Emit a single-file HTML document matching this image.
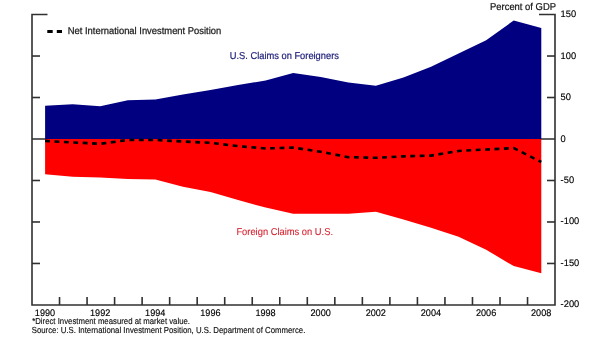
<!DOCTYPE html>
<html><head><meta charset="utf-8"><style>
html,body{margin:0;padding:0;background:#fff;width:600px;height:352px;overflow:hidden}
svg{display:block;font-family:"Liberation Sans",sans-serif;will-change:transform;text-rendering:geometricPrecision}
</style></head><body>
<svg width="600" height="352" viewBox="0 0 600 352">
<line x1="32" y1="139.0" x2="555" y2="139.0" stroke="#626262" stroke-width="1.8"/>
<polygon fill="#000080" points="45.10,105.71 72.67,104.30 100.23,106.29 127.80,100.24 155.36,99.49 182.93,94.44 210.50,90.05 238.06,85.07 265.63,80.43 293.19,73.06 320.76,77.04 348.33,82.42 375.89,85.65 403.46,77.45 431.02,66.84 458.59,53.50 486.16,40.16 513.72,20.53 541.29,27.90 541.29,139.00 45.10,139.00"/>
<polygon fill="#ff0000" points="45.10,174.23 72.67,176.72 100.23,177.55 127.80,178.95 155.36,179.45 182.93,186.66 210.50,192.05 238.06,200.08 265.63,207.62 293.19,213.84 320.76,213.84 348.33,213.84 375.89,211.68 403.46,219.47 431.02,227.84 458.59,236.87 486.16,249.72 513.72,266.12 541.29,273.17 541.29,139.00 45.10,139.00"/>
<polyline fill="none" stroke="#000" stroke-width="2.6" stroke-dasharray="4.9 4.505" points="45.10,140.92 72.67,142.41 100.23,143.82 127.80,140.01 155.36,139.93 182.93,141.50 210.50,142.83 238.06,146.14 265.63,148.46 293.19,147.63 320.76,151.78 348.33,157.16 375.89,157.82 403.46,156.33 431.02,155.59 458.59,150.95 486.16,149.54 513.72,148.13 541.29,161.97"/>
<g stroke="#303030" stroke-width="1.6" fill="none">
<line x1="32" y1="56.02" x2="40" y2="56.02"/>
<line x1="547" y1="56.02" x2="555" y2="56.02"/>
<line x1="32" y1="97.51" x2="40" y2="97.51"/>
<line x1="547" y1="97.51" x2="555" y2="97.51"/>
<line x1="32" y1="180.49" x2="40" y2="180.49"/>
<line x1="547" y1="180.49" x2="555" y2="180.49"/>
<line x1="32" y1="221.98" x2="40" y2="221.98"/>
<line x1="547" y1="221.98" x2="555" y2="221.98"/>
<line x1="32" y1="263.47" x2="40" y2="263.47"/>
<line x1="547" y1="263.47" x2="555" y2="263.47"/>
<polyline fill="none" points="47.5,14.53 32,14.53 32,304.96 555,304.96 555,14.53 539,14.53"/>
<line x1="59.53" y1="297" x2="59.53" y2="304.96"/>
<line x1="87.06" y1="297" x2="87.06" y2="304.96"/>
<line x1="114.59" y1="297" x2="114.59" y2="304.96"/>
<line x1="142.12" y1="297" x2="142.12" y2="304.96"/>
<line x1="169.65" y1="297" x2="169.65" y2="304.96"/>
<line x1="197.18" y1="297" x2="197.18" y2="304.96"/>
<line x1="224.71" y1="297" x2="224.71" y2="304.96"/>
<line x1="252.24" y1="297" x2="252.24" y2="304.96"/>
<line x1="279.77" y1="297" x2="279.77" y2="304.96"/>
<line x1="307.30" y1="297" x2="307.30" y2="304.96"/>
<line x1="334.83" y1="297" x2="334.83" y2="304.96"/>
<line x1="362.36" y1="297" x2="362.36" y2="304.96"/>
<line x1="389.89" y1="297" x2="389.89" y2="304.96"/>
<line x1="417.42" y1="297" x2="417.42" y2="304.96"/>
<line x1="444.95" y1="297" x2="444.95" y2="304.96"/>
<line x1="472.48" y1="297" x2="472.48" y2="304.96"/>
<line x1="500.01" y1="297" x2="500.01" y2="304.96"/>
<line x1="527.54" y1="297" x2="527.54" y2="304.96"/>
</g>
<g font-size="9.5" fill="#000" stroke="#000" stroke-width="0.15">
<text transform="translate(560.6,17.03) scale(0.98,1)">150</text>
<text transform="translate(560.6,58.52) scale(0.98,1)">100</text>
<text transform="translate(560.6,100.01) scale(0.98,1)">50</text>
<text transform="translate(560.6,141.50) scale(0.98,1)">0</text>
<text transform="translate(560.6,182.99) scale(0.98,1)">-50</text>
<text transform="translate(560.6,224.48) scale(0.98,1)">-100</text>
<text transform="translate(560.6,265.97) scale(0.98,1)">-150</text>
<text transform="translate(560.6,307.46) scale(0.98,1)">-200</text>
<text transform="translate(45.00,316.2) scale(0.96,1)" text-anchor="middle">1990</text>
<text transform="translate(100.13,316.2) scale(0.96,1)" text-anchor="middle">1992</text>
<text transform="translate(155.26,316.2) scale(0.96,1)" text-anchor="middle">1994</text>
<text transform="translate(210.40,316.2) scale(0.96,1)" text-anchor="middle">1996</text>
<text transform="translate(265.53,316.2) scale(0.96,1)" text-anchor="middle">1998</text>
<text transform="translate(320.66,316.2) scale(0.96,1)" text-anchor="middle">2000</text>
<text transform="translate(375.79,316.2) scale(0.96,1)" text-anchor="middle">2002</text>
<text transform="translate(430.92,316.2) scale(0.96,1)" text-anchor="middle">2004</text>
<text transform="translate(486.06,316.2) scale(0.96,1)" text-anchor="middle">2006</text>
<text transform="translate(541.19,316.2) scale(0.96,1)" text-anchor="middle">2008</text>
</g>
<text x="490" y="10.1" font-size="10" fill="#111" stroke="#111" stroke-width="0.2" textLength="66" lengthAdjust="spacingAndGlyphs">Percent of GDP</text>
<line x1="47.3" y1="31.4" x2="62" y2="31.4" stroke="#000" stroke-width="3" stroke-dasharray="5.4 4.1"/>
<text x="67.8" y="33.9" font-size="9.8" fill="#1a1a1a" stroke="#1a1a1a" stroke-width="0.25" textLength="153.4" lengthAdjust="spacingAndGlyphs">Net International Investment Position</text>
<text x="229.8" y="58.7" font-size="10" fill="#1c1c78" stroke="#1c1c78" stroke-width="0.2" textLength="109.1" lengthAdjust="spacingAndGlyphs">U.S. Claims on Foreigners</text>
<text x="236.4" y="234.9" font-size="10" fill="#d52433" stroke="#d52433" stroke-width="0.12" textLength="96.6" lengthAdjust="spacingAndGlyphs">Foreign Claims on U.S.</text>
<text x="32.2" y="323.9" font-size="8.7" fill="#111" stroke="#111" stroke-width="0.15" textLength="157.8" lengthAdjust="spacingAndGlyphs">*Direct Investment measured at market value.</text>
<text x="31.7" y="333.4" font-size="8.7" fill="#111" stroke="#111" stroke-width="0.15" textLength="273.7" lengthAdjust="spacingAndGlyphs">Source: U.S. International Investment Position, U.S. Department of Commerce.</text>
</svg>
</body></html>
